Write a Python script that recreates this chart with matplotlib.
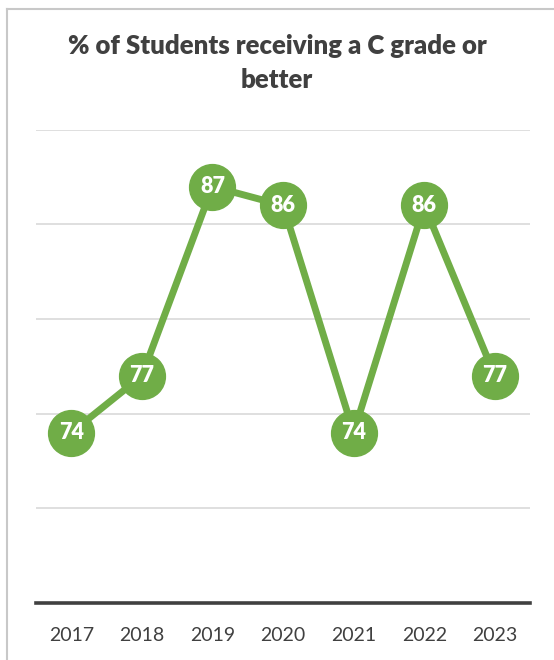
import matplotlib.pyplot as plt
from matplotlib.lines import Line2D

years = ['2017', '2018', '2019', '2020', '2021', '2022', '2023']
pct_c_or_better = [74, 77, 87, 86, 74, 86, 77]

title = '% of Students receiving a C grade or\nbetter'
green = '#70AD47'
text_col = '#404040'

plt.rcParams['font.family'] = ['Lato', 'DejaVu Sans']

fig = plt.figure(figsize=(5.54, 6.6), dpi=100)
ax = fig.add_axes([0.065, 0.0864, 0.892, 0.717])

x = list(range(len(years)))
ax.plot(x, pct_c_or_better, color=green, linewidth=5, marker='o',
        markersize=33, markerfacecolor=green, markeredgecolor=green,
        solid_capstyle='round', zorder=3)
for xi, v in zip(x, pct_c_or_better):
    ax.text(xi, v, str(v), ha='center', va='center', color='white',
            fontsize=15.5, fontweight='heavy', zorder=4)

ax.set_xlim(-0.5, len(years) - 0.5)
ax.set_ylim(65, 90)
ax.set_yticks([65, 70, 75, 80, 85, 90])
ax.yaxis.grid(True, color='#d9d9d9', linewidth=1.2)
ax.set_axisbelow(True)
ax.tick_params(axis='y', left=False, labelleft=False)
ax.set_xticks(x)
ax.set_xticklabels(years, fontsize=14, color=text_col)
ax.tick_params(axis='x', length=0, pad=17)

for side in ['top', 'right', 'left']:
    ax.spines[side].set_visible(False)
ax.spines['bottom'].set_color(text_col)
ax.spines['bottom'].set_linewidth(2.6)
ax.spines['bottom'].set_zorder(5)

fig.text(0.5, 0.904, title, ha='center', va='center', fontsize=18.5,
         fontweight='heavy', color=text_col, linespacing=1.5)

# chart frame (left and top edges only are in view)
fig.add_artist(Line2D([7 / 554, 7 / 554], [0, 1 - 9 / 660], transform=fig.transFigure,
                      color='#c8c8c8', linewidth=1.5))
fig.add_artist(Line2D([7 / 554, 1], [1 - 9 / 660, 1 - 9 / 660], transform=fig.transFigure,
                      color='#c8c8c8', linewidth=1.5))

fig.savefig('out.png', dpi=100)
